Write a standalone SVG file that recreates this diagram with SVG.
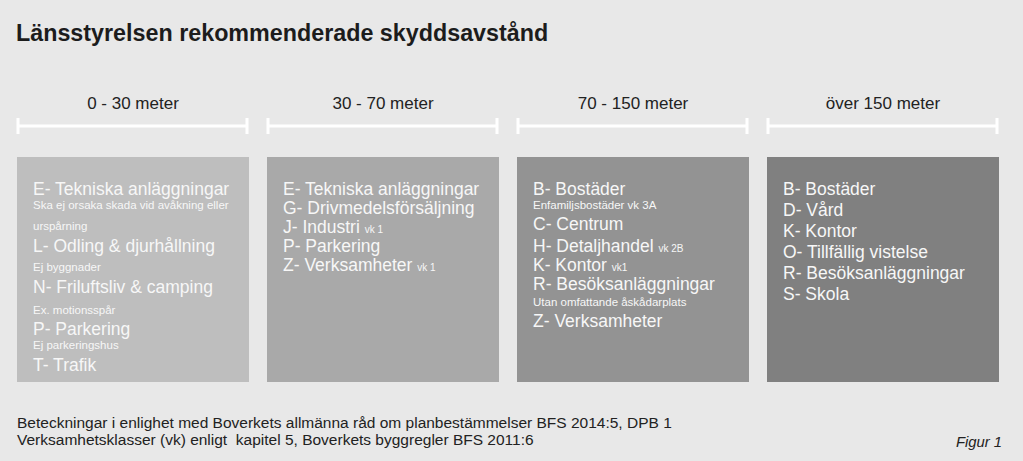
<svg xmlns="http://www.w3.org/2000/svg" width="1023" height="461" viewBox="0 0 1023 461">
<style>
.bg{fill:#e8e8e8}
.title{font-family:"Liberation Sans",Arial,sans-serif;font-size:23.3px;font-weight:bold;fill:#1c1c1c}
.hdr{font-family:"Liberation Sans",Arial,sans-serif;font-size:17px;fill:#222;text-anchor:middle}
.bar{stroke:#ffffff;stroke-width:3;fill:none}
.big{font-family:"Liberation Sans",Arial,sans-serif;font-size:17.5px;fill:#f7f7f7}
.sm{font-family:"Liberation Sans",Arial,sans-serif;font-size:11.5px;fill:#f7f7f7}
.vk{font-size:10px}
.foot{font-family:"Liberation Sans",Arial,sans-serif;font-size:15.5px;fill:#222}
.fig{font-family:"Liberation Sans",Arial,sans-serif;font-size:14.8px;font-style:italic;fill:#222}
</style>
<rect class="bg" x="0" y="0" width="1023" height="461"/>
<text class="title" x="16" y="41">Länsstyrelsen rekommenderade skyddsavstånd</text>

<g id="scale">
<text class="hdr" x="133" y="109">0 - 30 meter</text>
<text class="hdr" x="383" y="109">30 - 70 meter</text>
<text class="hdr" x="633" y="109">70 - 150 meter</text>
<text class="hdr" x="883" y="109">över 150 meter</text>
<path class="bar" d="M18 126H247M18 118V134M247 118V134"/>
<path class="bar" d="M268 126H497M268 118V134M497 118V134"/>
<path class="bar" d="M518 126H747M518 118V134M747 118V134"/>
<path class="bar" d="M768 126H997M768 118V134M997 118V134"/>
</g>

<g id="zone1">
<rect x="17" y="157" width="232" height="225" fill="#bebebe"/>
<text class="big" x="33" y="195">E- Tekniska anläggningar</text>
<text class="sm" x="33" y="209">Ska ej orsaka skada vid avåkning eller</text>
<text class="sm" x="33" y="230">urspårning</text>
<text class="big" x="33" y="252">L- Odling &amp; djurhållning</text>
<text class="sm" x="33" y="271">Ej byggnader</text>
<text class="big" x="33" y="293">N- Friluftsliv &amp; camping</text>
<text class="sm" x="33" y="314">Ex. motionsspår</text>
<text class="big" x="33" y="335">P- Parkering</text>
<text class="sm" x="33" y="349">Ej parkeringshus</text>
<text class="big" x="33" y="371">T- Trafik</text>
</g>

<g id="zone2">
<rect x="267" y="157" width="232" height="225" fill="#a9a9a9"/>
<text class="big" x="283" y="195">E- Tekniska anläggningar</text>
<text class="big" x="283" y="214">G- Drivmedelsförsäljning</text>
<text class="big" x="283" y="233">J- Industri <tspan class="vk">vk 1</tspan></text>
<text class="big" x="283" y="252">P- Parkering</text>
<text class="big" x="283" y="271">Z- Verksamheter <tspan class="vk">vk 1</tspan></text>
</g>

<g id="zone3">
<rect x="517" y="157" width="232" height="225" fill="#939393"/>
<text class="big" x="533" y="195">B- Bostäder</text>
<text class="sm" x="533" y="209">Enfamiljsbostäder vk 3A</text>
<text class="big" x="533" y="230">C- Centrum</text>
<text class="big" x="533" y="252">H- Detaljhandel <tspan class="vk">vk 2B</tspan></text>
<text class="big" x="533" y="271">K- Kontor <tspan class="vk">vk1</tspan></text>
<text class="big" x="533" y="290">R- Besöksanläggningar</text>
<text class="sm" x="533" y="306">Utan omfattande åskådarplats</text>
<text class="big" x="533" y="327">Z- Verksamheter</text>
</g>

<g id="zone4">
<rect x="767" y="157" width="232" height="225" fill="#808080"/>
<text class="big" x="783" y="195">B- Bostäder</text>
<text class="big" x="783" y="216">D- Vård</text>
<text class="big" x="783" y="237">K- Kontor</text>
<text class="big" x="783" y="258">O- Tillfällig vistelse</text>
<text class="big" x="783" y="279">R- Besöksanläggningar</text>
<text class="big" x="783" y="300">S- Skola</text>
</g>

<g id="connectors"></g>

<text class="foot" x="17" y="428">Beteckningar i enlighet med Boverkets allmänna råd om planbestämmelser BFS 2014:5, DPB 1</text>
<text class="foot" x="17" y="445" xml:space="preserve">Verksamhetsklasser (vk) enligt  kapitel 5, Boverkets byggregler BFS 2011:6</text>
<text class="fig" x="956" y="447">Figur 1</text>
</svg>
